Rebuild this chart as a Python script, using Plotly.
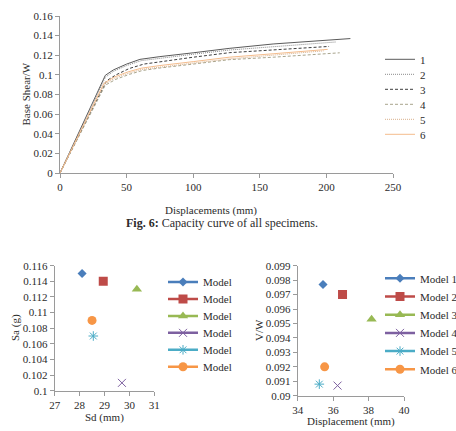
import plotly.graph_objects as go

W, H = 456, 431
FONT = "Liberation Serif"
TXT = "#2b2b2b"
AX = "#9a9a9a"


def px_x(p):
    return p / W


def px_y(p):
    return 1 - p / H


# ---------------- Top chart: capacity curves ----------------
curve_names = ["1", "2", "3", "4", "5", "6"]
disp_1 = [0, 34, 40, 50, 60, 75, 100, 127, 160, 218]
shear_1 = [0, 0.0995, 0.105, 0.111, 0.1158, 0.1186, 0.1225, 0.127, 0.1315, 0.137]
disp_2 = [0, 34, 40, 50, 61, 75, 100, 127, 160, 207]
shear_2 = [0, 0.0975, 0.1035, 0.1095, 0.1145, 0.117, 0.121, 0.1253, 0.129, 0.1335]
disp_3 = [0, 35, 42, 52, 63, 75, 100, 127, 160, 202]
shear_3 = [0, 0.094, 0.1, 0.1065, 0.111, 0.1135, 0.118, 0.1226, 0.1255, 0.129]
disp_4 = [0, 34, 42, 52, 62, 75, 100, 127, 160, 210]
shear_4 = [0, 0.0895, 0.0955, 0.1005, 0.1045, 0.107, 0.111, 0.1155, 0.118, 0.1225]
disp_5 = [0, 33, 41, 51, 61, 75, 100, 127, 160, 198]
shear_5 = [0, 0.09, 0.0965, 0.1015, 0.1055, 0.108, 0.112, 0.1163, 0.12, 0.1245]
disp_6 = [0, 33, 41, 51, 61, 75, 100, 127, 160, 201]
shear_6 = [0, 0.0915, 0.098, 0.103, 0.1068, 0.1095, 0.1135, 0.118, 0.1215, 0.126]

curve_x = [disp_1, disp_2, disp_3, disp_4, disp_5, disp_6]
curve_y = [shear_1, shear_2, shear_3, shear_4, shear_5, shear_6]
curve_colors = ["#5a5a5a", "#8a8a8a", "#3f3f3f", "#a8a48c", "#d9b08a", "#f4bc8c"]
curve_dash = ["solid", "1px,1px", "3px,2px", "3px,2px", "1px,1px", "solid"]

# ---------------- Bottom charts: performance points ----------------
model_labels_left = ["Model", "Model", "Model", "Model", "Model", "Model"]
model_labels_right = ["Model 1", "Model 2", "Model 3", "Model 4", "Model 5", "Model 6"]
sd_mm = [28.1, 28.95, 30.3, 29.7, 28.55, 28.5]
sa_g = [0.115, 0.114, 0.113, 0.101, 0.107, 0.109]
disp_mm = [35.43, 36.53, 38.17, 36.25, 35.22, 35.52]
v_over_w = [0.0977, 0.0970, 0.0953, 0.0907, 0.0908, 0.0920]

model_colors = ["#4A7EBB", "#BE4B48", "#98B954", "#7D60A0", "#4BACC6", "#F79646"]
model_symbols = ["diamond", "square", "triangle-up", "x-thin-open", "asterisk-open", "circle"]
model_sizes = [7, 9, 9, 8, 8, 9]

fig = go.Figure()
legends = {}


def legend_box(x_px, y_px, size=11):
    return dict(
        x=px_x(x_px), y=px_y(y_px), xanchor="left", yanchor="middle",
        bgcolor="rgba(0,0,0,0)", borderwidth=0,
        font=dict(family=FONT, size=size, color=TXT),
    )


# top curves, one legend per entry for Excel-like tight spacing
for i in range(6):
    lname = "legend" if i == 0 else f"legend{i + 1}"
    legends[lname] = legend_box(380, 59.3 + 15 * i)
    fig.add_trace(go.Scatter(
        x=curve_x[i], y=curve_y[i], mode="lines", name=curve_names[i],
        line=dict(color=curve_colors[i], width=1, dash=curve_dash[i]),
        xaxis="x", yaxis="y", legend=lname,
    ))

# bottom-left
for i in range(6):
    lname = f"legend{7 + i}"
    legends[lname] = legend_box(163, 282 + 16.95 * i)
    c = model_colors[i]
    open_sym = model_symbols[i].endswith("open")
    fig.add_trace(go.Scatter(
        x=[sd_mm[i]], y=[sa_g[i]], mode="lines+markers", name=model_labels_left[i],
        line=dict(color=c, width=2.5),
        marker=dict(symbol=model_symbols[i], size=model_sizes[i], color=c,
                    line=dict(color=c, width=1 if open_sym else 0)),
        xaxis="x2", yaxis="y2", legend=lname,
    ))

# bottom-right
for i in range(6):
    lname = f"legend{13 + i}"
    legends[lname] = legend_box(380, 278.3 + 18.2 * i)
    c = model_colors[i]
    open_sym = model_symbols[i].endswith("open")
    fig.add_trace(go.Scatter(
        x=[disp_mm[i]], y=[v_over_w[i]], mode="lines+markers", name=model_labels_right[i],
        line=dict(color=c, width=2.5),
        marker=dict(symbol=model_symbols[i], size=model_sizes[i], color=c,
                    line=dict(color=c, width=1 if open_sym else 0)),
        xaxis="x3", yaxis="y3", legend=lname,
    ))

axis_style = dict(
    showline=True, linecolor=AX, linewidth=1, ticks="outside", ticklen=4,
    tickcolor=AX, showgrid=False, zeroline=False,
    tickfont=dict(family=FONT, size=11, color=TXT), fixedrange=True,
)

fig.update_layout(
    width=W, height=H,
    margin=dict(l=0, r=0, t=0, b=0, autoexpand=False),
    paper_bgcolor="white", plot_bgcolor="white",
    showlegend=True,
    xaxis=dict(domain=[px_x(60), px_x(393)], range=[0, 250], dtick=50, anchor="y", **axis_style),
    yaxis=dict(domain=[px_y(173), px_y(16)], range=[0, 0.16], dtick=0.02, anchor="x", **axis_style),
    xaxis2=dict(domain=[px_x(54.7), px_x(154.3)], range=[27, 31], dtick=1, anchor="y2", **axis_style),
    yaxis2=dict(domain=[px_y(390.7), px_y(265.7)], range=[0.1, 0.116], dtick=0.002, anchor="x2", **axis_style),
    xaxis3=dict(domain=[px_x(297.7), px_x(404)], range=[34, 40], dtick=2, anchor="y3", **axis_style),
    yaxis3=dict(domain=[px_y(395.7), px_y(265.7)], range=[0.09, 0.099], dtick=0.001, anchor="x3", **axis_style),
    **legends,
)


def note(text, x, y, size=11, angle=0):
    fig.add_annotation(
        text=text, x=px_x(x), y=px_y(y), xref="paper", yref="paper",
        xanchor="center", yanchor="middle", showarrow=False, textangle=angle,
        font=dict(family=FONT, size=size, color=TXT),
    )


note("Base Shear/W", 26, 94.5, angle=-90)
note("Displacements (mm)", 210.5, 210)
note("<b>Fig. 6:</b> Capacity curve of all specimens.", 222, 223, size=12)
note("Sa (g)", 15, 328, angle=-90)
note("Sd (mm)", 104.5, 417)
note("V/W", 259, 330, angle=-90)
note("Displacement (mm)", 351, 421)

fig.write_html("out.html")
